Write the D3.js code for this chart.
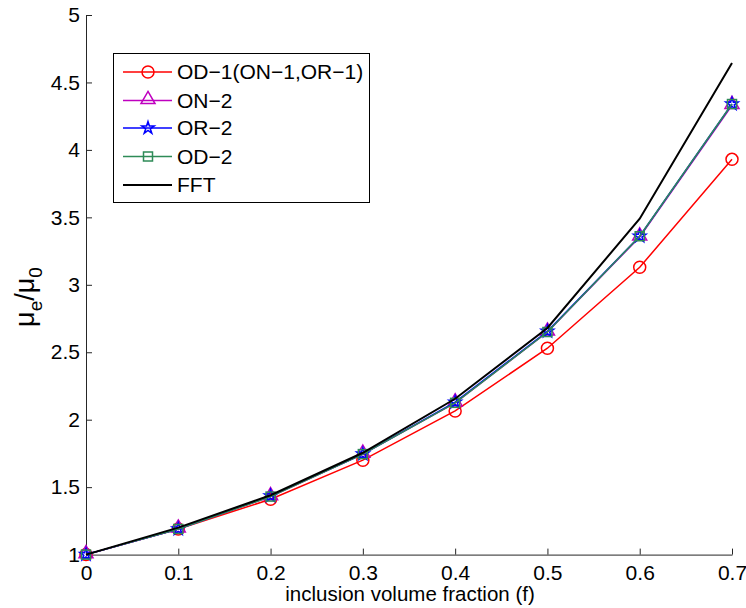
<!DOCTYPE html>
<html>
<head>
<meta charset="utf-8">
<script src="https://cdn.jsdelivr.net/npm/d3@7"></script>
<style>
  html, body { margin: 0; padding: 0; background: #fff; }
  svg text { font-family: "Liberation Sans", Arial, sans-serif; }
</style>
</head>
<body>
<svg id="chart" width="746" height="608"></svg>
<script>
// Inclusion volume fraction
const fractions = [0, 0.1, 0.2, 0.3, 0.4, 0.5, 0.6, 0.7];

// Effective permeability ratio mu_e/mu_0 for each estimate
const od1 = [1, 1.19, 1.41, 1.70, 2.065, 2.53, 3.13, 3.93];
const on2 = [1, 1.19, 1.43, 1.745, 2.125, 2.65, 3.355, 4.33];
const or2 = [1, 1.19, 1.435, 1.745, 2.13, 2.655, 3.36, 4.34];
const od2 = [1, 1.19, 1.43, 1.745, 2.125, 2.65, 3.36, 4.34];
const fft = [1, 1.20, 1.44, 1.755, 2.155, 2.68, 3.49, 4.645];

const xTicks = [0, 0.1, 0.2, 0.3, 0.4, 0.5, 0.6, 0.7];
const yTicks = [1, 1.5, 2, 2.5, 3, 3.5, 4, 4.5, 5];

const seriesNames = ["OD\u22121(ON\u22121,OR\u22121)", "ON\u22122", "OR\u22122", "OD\u22122", "FFT"];

const series = [
  { name: seriesNames[0], values: od1, color: "#ff0000", marker: "circle" },
  { name: seriesNames[1], values: on2, color: "#bf00bf", marker: "triangle" },
  { name: seriesNames[2], values: or2, color: "#0000ff", marker: "star" },
  { name: seriesNames[3], values: od2, color: "#2e8b57", marker: "square" },
  { name: seriesNames[4], values: fft, color: "#000000", marker: null }
];

const svg = d3.select("#chart");
const x = d3.scaleLinear().domain([0, 0.7]).range([86, 732]);
const y = d3.scaleLinear().domain([1, 5]).range([554.6, 15]);

// Axes (left and bottom only, ticks pointing inward)
const xAxis = d3.axisBottom(x).tickValues(xTicks).tickSizeInner(-6).tickSizeOuter(0)
  .tickPadding(10).tickFormat(d => d === 0 ? "0" : d3.format(".1f")(d));
const yAxis = d3.axisLeft(y).tickValues(yTicks).tickSizeInner(-6).tickSizeOuter(0)
  .tickPadding(6).tickFormat(d => Number.isInteger(d) ? String(d) : d3.format(".1f")(d));

const gx = svg.append("g").attr("transform", `translate(0,${y(1)})`).call(xAxis);
const gy = svg.append("g").attr("transform", `translate(${x(0)},0)`).call(yAxis);
[gx, gy].forEach(g => {
  g.select(".domain").attr("stroke", "#262626").attr("stroke-width", 1);
  g.selectAll(".tick line").attr("stroke", "#262626");
  g.selectAll(".tick text").attr("font-size", 21).attr("fill", "#000")
    .attr("font-family", "'Liberation Sans', Arial, sans-serif");
});

// Axis titles
svg.append("text")
  .attr("x", 410).attr("y", 601)
  .attr("text-anchor", "middle")
  .attr("font-size", 20.5)
  .text("inclusion volume fraction (f)");

const yl = svg.append("text")
  .attr("transform", "translate(34,297) rotate(-90)")
  .attr("text-anchor", "middle")
  .attr("font-size", 27);
yl.append("tspan").text("\u03bc");
yl.append("tspan").attr("font-size", 19).attr("dy", 8).text("e");
yl.append("tspan").attr("dy", -8).text("/\u03bc");
yl.append("tspan").attr("font-size", 19).attr("dy", 8).text("0");

// Marker shapes
function drawMarker(g, type, color, cx, cy) {
  if (type === "circle") {
    g.append("circle").attr("cx", cx).attr("cy", cy).attr("r", 6)
      .attr("fill", "none").attr("stroke", color).attr("stroke-width", 1.5);
  } else if (type === "triangle") {
    g.append("path").attr("transform", `translate(${cx},${cy - 1})`)
      .attr("d", d3.symbol().type(d3.symbolTriangle).size(85)())
      .attr("fill", "none").attr("stroke", color).attr("stroke-width", 1.5);
  } else if (type === "star") {
    g.append("path").attr("transform", `translate(${cx},${cy})`)
      .attr("d", d3.symbol().type(d3.symbolStar).size(45)())
      .attr("fill", "none").attr("stroke", color).attr("stroke-width", 1.6);
  } else if (type === "square") {
    g.append("rect").attr("x", cx - 4.5).attr("y", cy - 4.5).attr("width", 9).attr("height", 9)
      .attr("fill", "none").attr("stroke", color).attr("stroke-width", 1.5);
  }
}

// Data lines and markers
const line = d3.line().x((d, i) => x(fractions[i])).y(d => y(d));
const plot = svg.append("g");
series.forEach(s => {
  const g = plot.append("g");
  g.append("path").datum(s.values).attr("d", line)
    .attr("fill", "none").attr("stroke", s.color)
    .attr("stroke-width", s.marker ? 1.5 : 2);
  if (s.marker) {
    s.values.forEach((v, i) => drawMarker(g, s.marker, s.color, x(fractions[i]), y(v)));
  }
});

// Legend
const lg = svg.append("g");
lg.append("rect").attr("x", 113.5).attr("y", 53.5).attr("width", 256).attr("height", 149)
  .attr("fill", "#fff").attr("stroke", "#000").attr("stroke-width", 1);
const rowY = [72, 100.5, 128, 156.5, 185];
series.forEach((s, i) => {
  const yy = rowY[i];
  lg.append("line").attr("x1", 123).attr("x2", 172).attr("y1", yy).attr("y2", yy)
    .attr("stroke", s.color).attr("stroke-width", s.marker ? 1.5 : 2);
  if (s.marker) drawMarker(lg, s.marker, s.color, 148, yy);
  lg.append("text").attr("x", 177).attr("y", yy).attr("dy", "0.35em")
    .attr("font-size", 21).text(s.name);
});
</script>
</body>
</html>
